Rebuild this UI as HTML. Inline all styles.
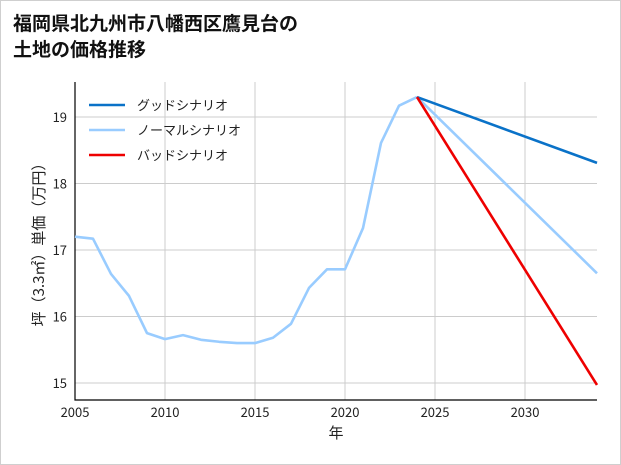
<!DOCTYPE html>
<html><head><meta charset="utf-8"><style>
body{margin:0;background:#fff;}
#wrap{width:619px;height:463px;border:1px solid #cfcfcf;position:relative;background:#fff;font-family:"Noto Sans CJK JP",sans-serif;}
</style></head><body>
<div id="wrap">
<svg id="chart" width="621" height="465" style="position:absolute;left:-1px;top:-1px">
<text x="13" y="30" font-size="19" font-weight="bold" fill="#111" font-family="Noto Sans CJK JP, sans-serif">福岡県北九州市八幡西区鷹見台の</text>
<text x="13" y="56" font-size="19" font-weight="bold" fill="#111" font-family="Noto Sans CJK JP, sans-serif">土地の価格推移</text>
<g id="grid"></g><g id="axes"></g><g id="lines"></g><g id="legend"></g>
</svg>
</div>
<script>
const years=[2005,2006,2007,2008,2009,2010,2011,2012,2013,2014,2015,2016,2017,2018,2019,2020,2021,2022,2023,2024];
const prices=[17.2,17.17,16.64,16.31,15.75,15.66,15.72,15.65,15.62,15.6,15.6,15.68,15.89,16.43,16.71,16.71,17.33,18.61,19.17,19.3];
const projYears=[2024,2034];
const goodValues=[19.3,18.31];
const normalValues=[19.3,16.65];
const badValues=[19.3,14.97];
const xTicks=[2005,2010,2015,2020,2025,2030];
const yTicks=[15,16,17,18,19];
const seriesNames=["グッドシナリオ","ノーマルシナリオ","バッドシナリオ"];
const seriesColors=["#0a72c8","#99ccff","#ee0000"];
const L=75,R=597,T=82,B=400;
const x=v=>L+(v-2005)*(R-L)/29;
const y=v=>383-(v-15)*66.5;
const NS="http://www.w3.org/2000/svg";
function mk(tag,attrs,parent){const e=document.createElementNS(NS,tag);for(const k in attrs)e.setAttribute(k,attrs[k]);parent.appendChild(e);return e;}
const grid=document.getElementById('grid'),axes=document.getElementById('axes'),lines=document.getElementById('lines'),legend=document.getElementById('legend');
const font="Noto Sans CJK JP, sans-serif";
xTicks.forEach(t=>{
 const g=mk('line',{x1:x(t),x2:x(t),y1:T,y2:B,stroke:'#cccccc','stroke-width':1},grid);
 
 
 const tx=mk('text',{x:x(t),y:B+17,'font-size':13,'text-anchor':'middle',fill:'#222','font-family':font},axes);
 tx.textContent=t;
 
 
});
yTicks.forEach(t=>{
 const g=mk('line',{x1:L,x2:R,y1:y(t),y2:y(t),stroke:'#cccccc','stroke-width':1},grid);
 
 
 const tx=mk('text',{x:L-8,y:y(t)+5,'font-size':13,'text-anchor':'end',fill:'#222','font-family':font},axes);
 tx.textContent=t;
 
 
});
const ax=mk('path',{d:`M${L},${T}V${B}H${R}`,stroke:'#000','stroke-width':1.2,fill:'none'},axes);


const xl=mk('text',{x:(L+R)/2,y:B+38,'font-size':15,'text-anchor':'middle',fill:'#222','font-family':font},axes);
xl.textContent='年';


const yl=mk('text',{x:0,y:0,'font-size':15,'text-anchor':'middle',fill:'#222','font-family':font,transform:`translate(44,${(T+B)/2}) rotate(-90)`},axes);
yl.textContent='坪（3.3㎡）単価（万円）';


function line(xs,vs,color,name){
 const p=mk('polyline',{points:xs.map((v,i)=>x(v)+','+y(vs[i])).join(' '),stroke:color,'stroke-width':2.6,fill:'none','stroke-linejoin':'round'},lines);
 
 
}
line(years,prices,seriesColors[1],'historical-price-line');
line(projYears,normalValues,seriesColors[1],'normal-scenario-line');
line(projYears,goodValues,seriesColors[0],'good-scenario-line');
line(projYears,badValues,seriesColors[2],'bad-scenario-line');
seriesNames.forEach((n,i)=>{
 const yy=105+i*25;
 const l=mk('line',{x1:89,x2:125,y1:yy,y2:yy,stroke:seriesColors[i],'stroke-width':2.6},legend);
 
 
 const t=mk('text',{x:137,y:yy+5,'font-size':13,fill:'#222','font-family':font},legend);
 t.textContent=n;
 
 
});
</script>
</body></html>
